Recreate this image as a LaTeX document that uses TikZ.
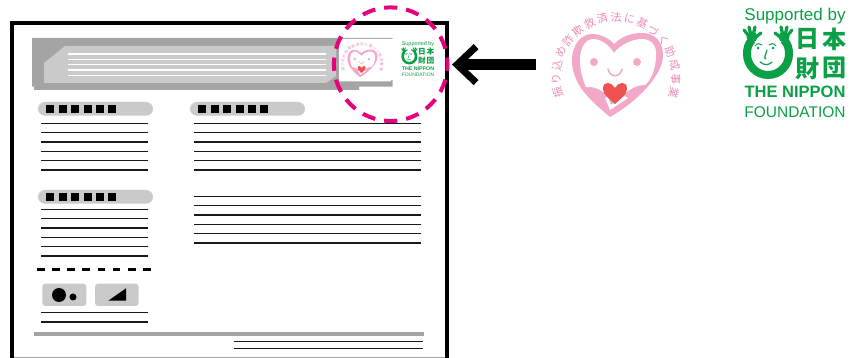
\documentclass[tikz,border=0pt]{standalone}
\usepackage{xcolor}
\usepackage{fontspec}
\setmainfont{Liberation Sans}
\newfontfamily\jpfont{Noto Sans CJK JP}
\usetikzlibrary{arrows.meta}
\definecolor{sheetDark}{RGB}{163,164,163}
\definecolor{sheetLight}{RGB}{201,202,201}
\definecolor{ringPink}{RGB}{230,0,126}
\definecolor{heartPink}{RGB}{242,169,201}
\definecolor{heartText}{RGB}{236,140,184}
\definecolor{heartRed}{RGB}{238,83,80}
\definecolor{nipponGreen}{RGB}{10,160,70}
\tikzset{
    x=1pt, y=-1pt,
    textline/.style={draw=black!90, line width=1.5pt},
    pill/.style={fill=sheetLight, rounded corners=6.8pt},
    pad/.style={fill=sheetLight, rounded corners=3pt},
    pics/heartlogo/.style={code={
        \begin{scope}[scale=#1, every node/.style={transform shape, inner sep=0pt}]
        \fill[heartPink] (-2,-33) .. controls (6,-41) and (16,-44) .. (26,-44)
            .. controls (38,-44) and (47,-36) .. (47,-22)
            .. controls (47,-2) and (22,24) .. (-6,40)
            .. controls (-25,24) and (-44,8) .. (-44,-17)
            .. controls (-44,-32) and (-35,-43) .. (-24,-43)
            .. controls (-16,-43) and (-7,-39) .. (-2,-33) -- cycle;
        \fill[white] (-2,-24) .. controls (4,-32) and (16,-38) .. (26,-38)
            .. controls (35,-38) and (41,-31) .. (40,-22)
            .. controls (40,-8) and (35,3) .. (29,8)
            .. controls (22,8) and (14,11) .. (9,17)
            -- (-13,15) .. controls (-19,10) and (-25,10) .. (-30,10)
            .. controls (-33,3) and (-36,-6) .. (-36,-17)
            .. controls (-36,-30) and (-30,-38) .. (-23,-38)
            .. controls (-15,-38) and (-7,-32) .. (-2,-24) -- cycle;
        \fill[white] (-11,21) -- (-6,33) -- (12,21) -- (8,19) -- (-5,28) -- (-8,20) -- cycle;
        \fill[heartRed] (-1,11) .. controls (2,5) and (11,3) .. (11,12)
            .. controls (11,18) and (4,22) .. (-1,27)
            .. controls (-6,22) and (-13,18) .. (-13,12)
            .. controls (-13,3) and (-4,5) .. (-1,11) -- cycle;
        \fill[heartPink] (-22,-15) circle[radius=4] (21,-15) circle[radius=4];
        \draw[heartPink, line width=#1*1.5pt, line cap=round] (-8,-8) .. controls (-6,1) and (4,1) .. (6,-8);
        \foreach \ch [count=\i from 0, evaluate=\i as \a using 195-\i*13.125] in {振,り,込,め,詐,欺,救,済,法,に,基,づ,く,助,成,事,業}
            \node[text=heartText, font=\jpfont\fontsize{11}{11}\selectfont, rotate=\a-90] (ch\i) at ({60*cos(\a)},{-60*sin(\a)}) {\ch};
        \end{scope}
    }},
    pics/nipponlogo/.style={code={
        \begin{scope}[scale=#1, every node/.style={transform shape, inner sep=0pt, text=nipponGreen}]
        % U and hands
        \draw[nipponGreen, line width=#1*8pt] (-43,-20) .. controls (-47,-16) and (-48,-11) .. (-48,-6)
            arc[start angle=180, end angle=0, radius=21]
            .. controls (-6,-11) and (-7,-16) .. (-11,-20);
        \fill[nipponGreen] (-43,-23) circle[radius=5.5] (-11,-23) circle[radius=5.5];
        \foreach \tipx/\tipy in {-51/-30, -46/-33, -40/-33, -34/-27}
            \draw[nipponGreen, line width=#1*3.2pt, line cap=round] (-43,-20) -- (\tipx,\tipy);
        \foreach \tipx/\tipy in {-3/-30, -8/-33, -14/-33, -20/-27}
            \draw[nipponGreen, line width=#1*3.2pt, line cap=round] (-11,-20) -- (\tipx,\tipy);
        % Face
        \fill[nipponGreen] (-37,-12) circle[radius=1.5] (-22,-12) circle[radius=1.5];
        \draw[nipponGreen, line width=#1*1.2pt, line cap=round] (-28,-10) .. controls (-29,-5) and (-32,-2) .. (-29,-1);
        \draw[nipponGreen, line width=#1*1.2pt, line cap=round] (-35,2) .. controls (-30,6) and (-26,5) .. (-23,2);
        \draw[nipponGreen, line width=#1*1pt, line cap=round] (-40,-14) .. controls (-38,-17) and (-35,-17) .. (-33,-15);
        \draw[nipponGreen, line width=#1*1pt, line cap=round] (-26,-15) .. controls (-24,-17) and (-21,-17) .. (-19,-14);
        % Texts
        \node[font=\fontsize{17}{17}\selectfont] (supported) at (0,-44) {Supported by};
        \node[font=\jpfont\bfseries\fontsize{24}{24}\selectfont] (kanjiA) at (12,-21) {日};
        \node[font=\jpfont\bfseries\fontsize{24}{24}\selectfont] (kanjiB) at (39,-21) {本};
        \node[font=\jpfont\bfseries\fontsize{24}{24}\selectfont] (kanjiC) at (12,8) {財};
        \node[font=\jpfont\bfseries\fontsize{24}{24}\selectfont] (kanjiD) at (39,8) {団};
        \node[font=\bfseries\fontsize{16.5}{16.5}\selectfont] (nippon) at (0,32) {THE NIPPON};
        \node[font=\fontsize{15.5}{15.5}\selectfont] (foundation) at (0,52) {FOUNDATION};
        \end{scope}
    }}
}
\begin{document}
\begin{tikzpicture}
\useasboundingbox (0,0) rectangle (852,358);

% Sheet
\draw[sheetDark, line width=1pt] (10,357.5) -- (448,357.5);
\draw[black, line width=4pt] (12,358) -- (12,23) -- (446.5,23) -- (446.5,358);

% Header band
\fill[sheetDark] (32,38) -- (392.5,38) -- (392.5,86.7) -- (359,86.7) -- (359,90) -- (34,90) -- (34,86.7) -- (32,86.7) -- cycle;
\fill[sheetLight] (44,83) -- (44,63) -- (65,46) -- (336,46) -- (336,76) -- (326,83) -- cycle;
\foreach \y in {54,59.3,64.7,70,75.3}
    \draw[white, line width=1.3pt] (68,\y) -- (326,\y);
\fill[white] (339,38.8) -- (393,38.8) -- (393,80) -- (391,80) -- (391,81.5) -- (339,81.5) -- cycle;

% Small logos
\pic (smallheart) at (362,64) {heartlogo=0.33};
\pic (smallgreen) at (418,58.4) {nipponlogo=0.32};

% Headings
\foreach \px/\py in {0/102, 152/102, 0/190}{
    \fill[pill] (38+\px,\py) rectangle (153+\px,\py+13.7);
    \foreach \sx in {46,59,71,84,96,108}
        \fill[black] (\sx+\px,\py+3) rectangle (\sx+8+\px,\py+11);
}

% Text lines
\foreach \y in {123.3,132.7,142,151.3,160.7,170,209.3,218.7,228,237.3,246.7,256,312.7,322}
    \draw[textline] (41,\y) -- (148,\y);
\foreach \y in {123.3,132.7,142,151.3,160.7,170,196.3,205.7,215,224.3,233.7,243}
    \draw[textline] (194,\y) -- (420.7,\y);
\foreach \y in {341.7,348.7}
    \draw[textline] (234,\y) -- (422.7,\y);

% Dashed rule
\draw[black, line width=2.7pt, dash pattern=on 7.67pt off 7.47pt] (37,269.3) -- (151,269.3);

% Buttons
\fill[pad] (42.3,283.7) rectangle (86.3,306);
\fill[pad] (95,283.7) rectangle (138.7,306);
\fill[black] (59,295) circle[radius=7] (73,297) circle[radius=3.5];
\fill[black] (108.3,300.7) -- (126,288.3) -- (126,300.7) -- cycle;

% Footer rule
\fill[sheetDark] (34,332.3) rectangle (423.7,336.3);

% Large logos
\pic (bigheart) at (616,77) {heartlogo=1};
\pic (biggreen) at (795,60) {nipponlogo=1};

% Highlight and arrow
\draw[ringPink, line width=4pt, dash pattern=on 13.3pt off 9pt, dash phase=6.65pt] (390.7,64.2) circle[radius=56.8];
\coordinate (arrowstart) at (536,64.6);
\coordinate (arrowend) at (452,64.6);
\draw[black, line width=10.7pt, -{Straight Barb[length=19pt, width=36pt, line width=7pt]}] (arrowstart) -- (arrowend);
\end{tikzpicture}
\end{document}
